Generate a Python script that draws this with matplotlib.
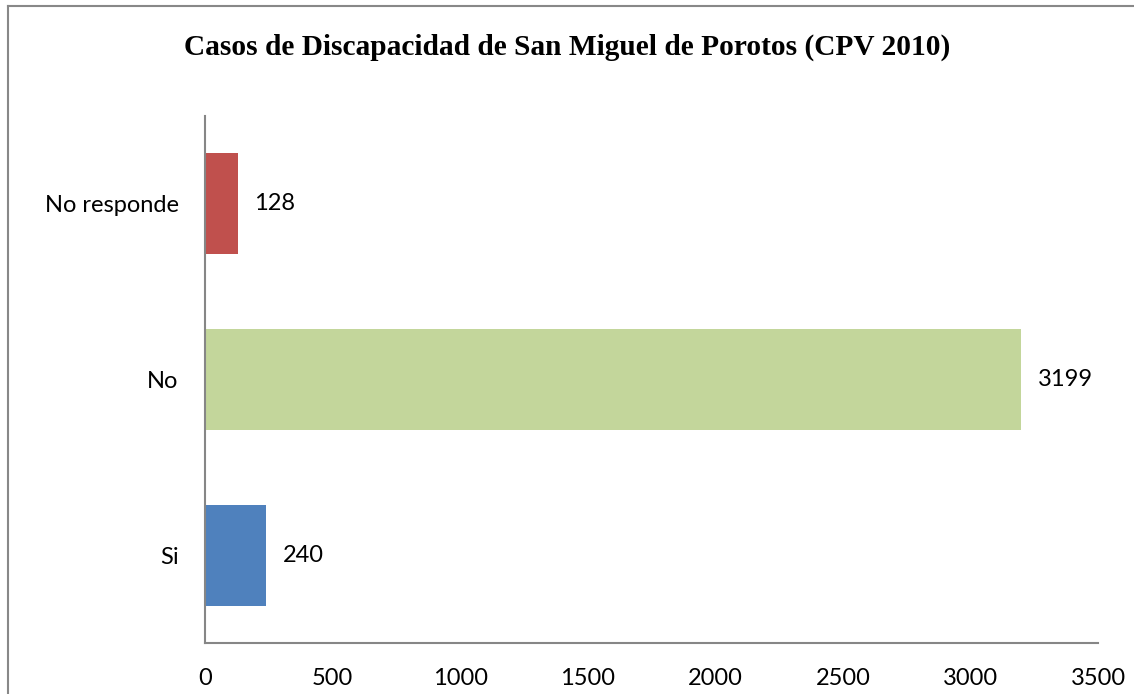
import matplotlib.pyplot as plt
from matplotlib.lines import Line2D

# datos del censo (CPV 2010)
categorias = ['Si', 'No', 'No responde']
casos = [240, 3199, 128]
colores = ['#4F81BD', '#C3D69B', '#C0504D']
ticks_x = [0, 500, 1000, 1500, 2000, 2500, 3000, 3500]

plt.rcParams['font.family'] = ['Lato', 'DejaVu Sans']

fig = plt.figure(figsize=(11.34, 6.94), dpi=100)
ax = fig.add_axes([0.1808, 0.0735, 0.7875, 0.7594])

pos = range(len(categorias))
ax.barh(pos, casos, height=0.575, color=colores)
for y, v in zip(pos, casos):
    ax.annotate(str(v), (v, y), xytext=(12, 0), textcoords='offset points',
                va='center', ha='left', fontsize=17)

ax.set_xlim(0, 3500)
ax.set_ylim(-0.5, 2.5)
ax.set_xticks(ticks_x)
ax.set_yticks(list(pos))
ax.set_yticklabels(categorias)
ax.tick_params(axis='both', length=0, labelsize=17)
ax.tick_params(axis='x', pad=18)
ax.tick_params(axis='y', pad=19)

for s in ['top', 'right']:
    ax.spines[s].set_visible(False)
for s in ['left', 'bottom']:
    ax.spines[s].set_color('#868686')
    ax.spines[s].set_linewidth(1.5)

fig.text(0.5, 0.932, 'Casos de Discapacidad de San Miguel de Porotos (CPV 2010)',
         ha='center', va='center', fontsize=21.2, fontweight='bold',
         family='Liberation Serif')

# marco del gráfico (solo izquierda y arriba)
fig.add_artist(Line2D([8 / 1134, 8 / 1134], [0, 1 - 6 / 694],
                      color='#888888', lw=1.5, transform=fig.transFigure))
fig.add_artist(Line2D([8 / 1134, 1], [1 - 6 / 694, 1 - 6 / 694],
                      color='#888888', lw=1.5, transform=fig.transFigure))

fig.savefig('out.png', dpi=100)
